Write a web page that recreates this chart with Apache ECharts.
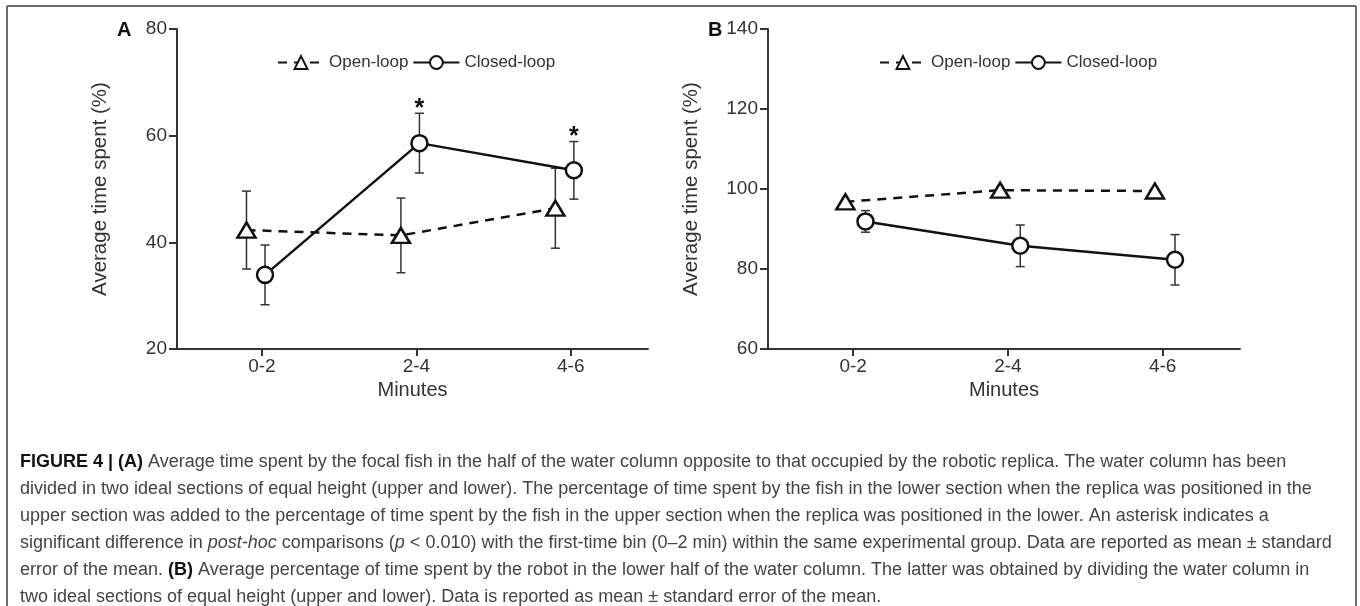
<!DOCTYPE html>
<html>
<head>
<meta charset="utf-8">
<script src="https://cdn.jsdelivr.net/npm/echarts@6/dist/echarts.min.js"></script>
<style>
html,body{margin:0;padding:0;background:#fff;}
#c{width:1360px;height:606px;}
</style>
</head>
<body>
<div id="c"></div>
<script>
// ---------- data ----------
var categories = ['0-2', '2-4', '4-6'];
var seriesNames = ['Open-loop', 'Closed-loop'];
// Panel A
var openA = [42.3, 41.3, 46.4];
var openA_se = [7.3, 7.0, 7.5];
var closedA = [33.9, 58.6, 53.5];
var closedA_se = [5.6, 5.6, 5.4];
var sigA = [false, true, true];
var ticksA = [20, 40, 60, 80];
// Panel B
var openB = [96.8, 99.7, 99.5];
var openB_se = [0, 0, 0];
var closedB = [91.9, 85.8, 82.3];
var closedB_se = [2.7, 5.2, 6.3];
var ticksB = [60, 80, 100, 120, 140];
var captionLines = [
  '{b|FIGURE 4 | (A)} Average time spent by the focal fish in the half of the water column opposite to that occupied by the robotic replica. The water column has been',
  'divided in two ideal sections of equal height (upper and lower). The percentage of time spent by the fish in the lower section when the replica was positioned in the',
  'upper section was added to the percentage of time spent by the fish in the upper section when the replica was positioned in the lower. An asterisk indicates a',
  'significant difference in {i|post-hoc} comparisons ({i|p} < 0.010) with the first-time bin (0\u20132 min) within the same experimental group. Data are reported as mean \u00b1 standard',
  'error of the mean. {b|(B)} Average percentage of time spent by the robot in the lower half of the water column. The latter was obtained by dividing the water column in',
  'two ideal sections of equal height (upper and lower). Data is reported as mean \u00b1 standard error of the mean.'
];

// ---------- styling / layout ----------
var INK = '#111';
var AX = '#333';
var FONT = 'Liberation Sans, Arial, sans-serif';
var catPos = categories.map(function (c, i) { return i + 1; });
var grids = [
  {left: 177, top: 29, width: 471, height: 320},
  {left: 768, top: 29, width: 472, height: 320}
];
// horizontal dodge (category units) for [open, closed] in each panel
var dodge = [[-0.1, 0.02], [-0.05, 0.08]];

function pts(vals, off) { return vals.map(function (v, i) { return [catPos[i] + off, v]; }); }
function errs(vals, se, off) { return vals.map(function (v, i) { return [catPos[i] + off, v - se[i], v + se[i]]; }); }

function errRender(params, api) {
  var x = api.value(0);
  var lo = api.coord([x, api.value(1)]);
  var hi = api.coord([x, api.value(2)]);
  var cap = 4.5;
  var st = {stroke: AX, lineWidth: 1.5};
  return {type: 'group', children: [
    {type: 'line', shape: {x1: lo[0], y1: lo[1], x2: hi[0], y2: hi[1]}, style: st},
    {type: 'line', shape: {x1: lo[0] - cap, y1: lo[1], x2: lo[0] + cap, y2: lo[1]}, style: st},
    {type: 'line', shape: {x1: hi[0] - cap, y1: hi[1], x2: hi[0] + cap, y2: hi[1]}, style: st}
  ]};
}
function starRender(params, api) {
  if (!api.value(2)) return null;
  var p = api.coord([api.value(0), api.value(1)]);
  return {type: 'text', x: p[0], y: p[1] - 17, style: {text: '*', fontSize: 25, fontWeight: 'bold', fill: INK, align: 'center', verticalAlign: 'top', fontFamily: FONT}};
}

var xAxes = [], yAxes = [], series = [];
function panel(gi, open, openSe, closed, closedSe, ticks, sig) {
  var offO = dodge[gi][0], offC = dodge[gi][1];
  xAxes.push({
    gridIndex: gi, type: 'value', min: 0.45, max: 3.5,
    name: 'Minutes', nameLocation: 'middle', nameGap: 21,
    nameTextStyle: {fontSize: 20, color: AX, fontFamily: FONT},
    axisLine: {lineStyle: {color: AX, width: 2}},
    axisTick: {show: true, customValues: catPos, length: 7, lineStyle: {color: AX, width: 2}},
    axisLabel: {customValues: catPos, fontSize: 19, color: AX, margin: 8, fontFamily: FONT,
      formatter: function (v) { return categories[Math.round(v) - 1]; }},
    splitLine: {show: false}
  });
  yAxes.push({
    gridIndex: gi, type: 'value', min: ticks[0], max: ticks[ticks.length - 1], interval: ticks[1] - ticks[0],
    name: 'Average time spent (%)', nameLocation: 'middle', nameGap: 66, nameRotate: 90,
    nameTextStyle: {fontSize: 20.5, color: AX, fontFamily: FONT},
    axisLine: {show: true, lineStyle: {color: AX, width: 2}},
    axisTick: {show: true, length: 8, lineStyle: {color: AX, width: 2}},
    axisLabel: {fontSize: 19, color: AX, margin: 10, fontFamily: FONT},
    splitLine: {show: false}
  });
  var xi = gi, yi = gi;
  series.push({
    name: seriesNames[0], type: 'line', xAxisIndex: xi, yAxisIndex: yi, data: pts(open, offO),
    symbol: 'triangle', symbolSize: [18, 15], z: 4,
    lineStyle: {color: INK, width: 2.5, type: [9, 7]},
    itemStyle: {color: '#fff', borderColor: INK, borderWidth: 2.5}
  });
  series.push({
    name: seriesNames[1], type: 'line', xAxisIndex: xi, yAxisIndex: yi, data: pts(closed, offC),
    symbol: 'circle', symbolSize: 16, z: 4,
    lineStyle: {color: INK, width: 2.5, type: 'solid'},
    itemStyle: {color: '#fff', borderColor: INK, borderWidth: 2.5}
  });
  series.push({type: 'custom', xAxisIndex: xi, yAxisIndex: yi, renderItem: errRender, data: errs(open, openSe, offO), z: 2, silent: true});
  series.push({type: 'custom', xAxisIndex: xi, yAxisIndex: yi, renderItem: errRender, data: errs(closed, closedSe, offC), z: 2, silent: true});
  if (sig) {
    series.push({type: 'custom', xAxisIndex: xi, yAxisIndex: yi, renderItem: starRender, z: 5, silent: true,
      data: closed.map(function (v, i) { return [catPos[i] + offC, v + closedSe[i], sig[i] ? 1 : 0]; })});
  }
}
panel(0, openA, openA_se, closedA, closedA_se, ticksA, sigA);
panel(1, openB, openB_se, closedB, closedB_se, ticksB, null);

var legendBase = {
  data: seriesNames, itemWidth: 46, itemHeight: 16, itemGap: 4, orient: 'horizontal',
  textStyle: {fontSize: 17, color: AX, fontFamily: FONT}
};
var legends = [
  Object.assign({}, legendBase, {left: 272, top: 49}),
  Object.assign({}, legendBase, {left: 874, top: 49})
];

var graphics = [
  {type: 'line', shape: {x1: 7, y1: 6, x2: 1356, y2: 6}, style: {stroke: '#6b6b6b', lineWidth: 2}},
  {type: 'line', shape: {x1: 7, y1: 6, x2: 7, y2: 606}, style: {stroke: '#6b6b6b', lineWidth: 2}},
  {type: 'line', shape: {x1: 1356, y1: 6, x2: 1356, y2: 606}, style: {stroke: '#6b6b6b', lineWidth: 2}},
  {type: 'text', left: 117, top: 20, style: {text: 'A', fontSize: 20, fontWeight: 'bold', fill: INK, fontFamily: FONT}},
  {type: 'text', left: 708, top: 20, style: {text: 'B', fontSize: 20, fontWeight: 'bold', fill: INK, fontFamily: FONT}}
];
captionLines.forEach(function (t, i) {
  graphics.push({type: 'text', left: 20, top: 453 + i * 27, style: {
    text: t, fontSize: 18, fill: '#444', fontFamily: FONT,
    rich: {
      b: {fontWeight: 'bold', fontSize: 18, fill: '#111', fontFamily: FONT},
      i: {fontStyle: 'italic', fontSize: 18, fill: '#444', fontFamily: FONT}
    }
  }});
});

var chart = echarts.init(document.getElementById('c'), null, {renderer: 'canvas'});
chart.setOption({
  animation: false,
  backgroundColor: '#fff',
  grid: grids,
  xAxis: xAxes,
  yAxis: yAxes,
  legend: legends,
  series: series,
  graphic: graphics
});
</script>
</body>
</html>
